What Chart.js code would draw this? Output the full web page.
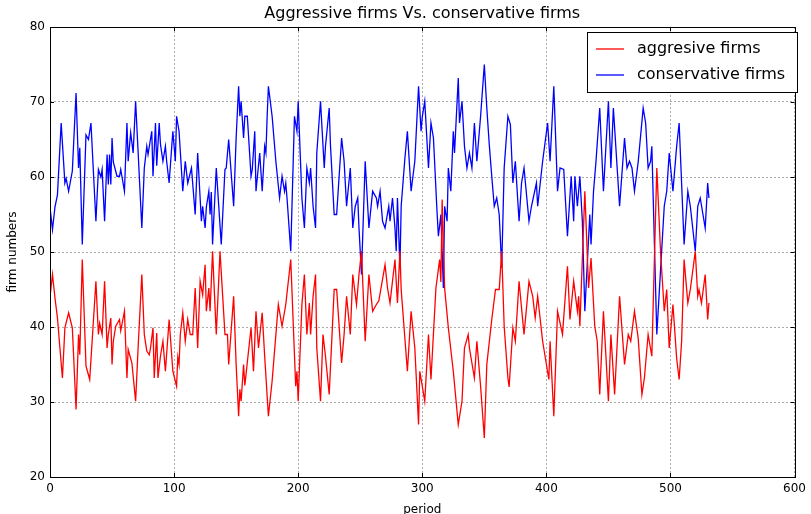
<!DOCTYPE html>
<html>
<head>
<meta charset="utf-8">
<script src="https://cdn.jsdelivr.net/npm/chart.js@4.4.1/dist/chart.umd.min.js"></script>
<style>
html,body{margin:0;padding:0;background:#fff;}
</style>
</head>
<body>
<canvas id="chart" width="811" height="514"></canvas>
<script>
// values (turning points of each line)
const aggPeriods = [0,2,4,6,10,12,15,18,21,23,24,26,29,30,32,37,39,40,42,44,46,47,49,50,51,53,56,57,60,62,63,66,69,71,74,76,78,80,81,83,84,86,87,89,91,93,96,99,102,103,104,105,107,109,111,113,115,117,119,121,123,125,126,128,129,131,134,137,141,143,144,148,150,152,153,154,156,157,162,164,166,168,171,173,176,179,184,187,190,194,198,199,200,203,205,207,209,210,212,214,215,218,220,222,225,229,231,235,237,239,242,244,247,249,251,254,257,260,263,265,270,272,274,278,280,282,283,288,291,294,297,298,300,302,305,307,311,314,315,316,318,321,325,329,332,334,337,338,342,344,347,350,352,356,359,362,364,366,369,370,373,375,378,382,386,389,391,393,397,402,403,406,409,413,417,419,422,425,426,427,431,434,436,439,441,443,446,450,452,455,459,463,466,468,471,474,477,479,482,485,489,492,495,497,499,502,505,507,509,511,514,516,520,522,523,525,528,530,531];
const aggValues = [44,47,43.9,41.2,33.2,39.9,41.9,39.9,29,39,36.3,49,34.8,34.2,33,46.1,39,40.5,39,46.1,37.2,39,41.2,35,38.1,40.1,41,39.5,42.1,33.2,37,35.2,30.1,37.2,47,39,36.8,36.3,37.2,39.9,33.2,39.2,33.2,36.1,38.1,34.1,41,34.1,32.1,36,35,39,41.9,38.1,41,39,39,45.2,37.2,46.1,44.3,48.3,42.1,45.2,42.1,50.1,39,50.1,39,39,35,44.1,35,28.1,31.7,30.1,35,32.2,39.9,34.1,42.1,37.2,41.9,36.1,28.1,32.8,43,40.1,43,49,32.1,34.1,30.1,43,47,39,43.2,39,44.1,47,37.2,30.1,39,36.1,31,45,45,35.2,39,44.1,39,47,43,47,50.1,38.1,47,42.1,43,43.5,48.3,45.2,43.2,49,43.2,50.1,45,34.1,42.1,37.2,27,34.1,32.1,30.1,39,33,45.2,49,46,57,45.2,39.9,34.1,27,30.1,37.2,39,37.2,33.2,38.1,32.1,25.2,35,41,45,45,50.1,40.1,33.2,32,39.9,38.1,46.1,39,46.1,44.1,41.2,44.1,38.1,33,38.1,28.1,42.1,39,48.1,41,46.1,42.1,44.1,40.1,58.1,45.2,49.2,40.1,38.1,31,42.1,30.1,39,31,44.1,35,39,38.1,42.1,38.5,31,33.2,39,36.1,61.2,50.1,42.1,45,37.2,43,35.8,33,38.1,49,43.2,45,50.1,44.1,45,43.2,47,41,43.2];

const consPeriods = [0,2,4,6,9,12,13,15,18,21,23,24,26,29,31,33,37,39,41,42,44,46,47,48,49,50,51,54,56,57,60,62,63,65,67,69,74,76,78,79,82,83,85,86,88,89,91,93,94,96,99,101,102,104,107,109,111,114,117,119,122,123,125,126,128,129,130,131,134,138,141,142,144,148,150,152,153,154,156,157,159,162,163,165,166,169,171,173,174,175,176,179,182,185,187,189,190,191,194,196,197,199,200,203,205,207,209,210,212,214,215,218,221,222,225,226,229,231,235,237,239,242,244,246,248,249,251,254,257,260,263,264,266,268,270,273,274,276,278,279,280,282,283,286,288,291,294,297,299,300,302,305,307,309,312,313,315,317,318,320,321,323,325,326,329,330,332,334,336,338,340,342,344,347,350,352,354,356,358,360,362,364,366,369,371,373,375,378,380,382,386,388,392,393,397,401,403,406,409,411,414,417,420,422,423,425,427,429,431,435,436,438,440,443,446,450,452,454,459,463,465,467,469,471,474,478,480,482,484,485,489,495,497,499,502,505,507,511,514,516,520,522,524,528,530,531];
const consValues = [56,53,56,57.6,67.2,59.2,59.8,58.1,60.8,71.2,61.2,63.9,51,65.6,65,67.2,54.1,61,60,61,54.1,63,59,63,59,65.2,62,60.1,60.1,61,58.1,67.2,62.1,65.9,63.2,70.1,53.2,61.2,64.1,63,66.1,60.1,67.2,61.5,67.2,64.4,62.1,64.1,62.1,59.2,66.1,62.1,68.1,66.1,58.1,62.1,59.2,61.2,55,63.2,54.1,56.1,53.2,56,58.1,55,58,51,61.2,51,61,61.2,65,56.1,65.2,72.1,68.1,70.1,65.2,68.1,68.1,60.1,61,66.1,58.1,63.2,58.1,64.1,63.2,68.1,72.1,68.1,62.1,57.2,60.1,58.1,59.2,57.2,50.1,62.1,68.1,66.1,70.1,57.2,53.2,61.2,59.2,61.2,56.1,53.2,63.2,70.1,61.2,64.1,69.2,64.3,55,55,65.2,62.1,56.1,61.2,53.2,56.1,57.2,53.2,47,62.1,53.2,58.1,57.2,56.1,58.1,54.1,53.2,56.1,54.1,57.2,53.2,50.1,57.2,47.9,56.1,62.5,66.1,58.1,62.1,72.1,66.1,68,70.1,61.2,67.2,65.2,55,52.1,55,45.2,56.1,54.1,61.2,58.1,66.1,63.2,73.2,67.2,70.1,64.1,61.2,63.2,61.2,67.2,62.1,68.1,75,69.2,64.3,60.1,56.1,57.2,55,47.9,61.2,68.1,67,59.2,62.1,54.1,59.2,61.2,54.1,56.1,59.2,56.1,62.1,67.2,62.1,72.1,58.1,61.2,61,52.1,60.1,54.1,60.1,56.1,60.1,54.1,42.1,55,51,58.1,62.1,69.2,58.1,70.1,61.2,69.2,56.1,65.2,61.2,62.1,61.2,58.1,62,69.2,67.2,61.2,62.1,64.1,39,56.1,58.1,63.2,58.1,64.1,67.2,51,58.1,56.1,50.1,56.1,57.2,53.2,59.2,57.2];

const xTicks = [0,100,200,300,400,500,600];
const yTicks = [20,30,40,50,60,70,80];

const FONT = "'DejaVu Sans', sans-serif";

function toPoints(xs, ys){
  return xs.map((x,i) => ({x:x, y:ys[i]}));
}

// title, frame, inward ticks and the boxed legend, like the matplotlib original
const decorations = {
  id: 'decorations',
  afterDraw(chart){
    const ctx = chart.ctx;
    const a = chart.chartArea;
    const sx = chart.scales.x, sy = chart.scales.y;
    ctx.save();

    ctx.fillStyle = '#000';
    ctx.font = '16px ' + FONT;
    ctx.textAlign = 'center';
    ctx.textBaseline = 'middle';
    ctx.fillText('Aggressive firms Vs. conservative firms', (a.left + a.right)/2, 14);

    ctx.strokeStyle = '#000';
    ctx.lineWidth = 1;
    ctx.beginPath();
    xTicks.forEach(v => {
      const px = Math.round(sx.getPixelForValue(v)) + 0.5;
      ctx.moveTo(px, a.bottom); ctx.lineTo(px, a.bottom - 4);
      ctx.moveTo(px, a.top); ctx.lineTo(px, a.top + 4);
    });
    yTicks.forEach(v => {
      const py = Math.round(sy.getPixelForValue(v)) + 0.5;
      ctx.moveTo(a.left, py); ctx.lineTo(a.left + 4, py);
      ctx.moveTo(a.right, py); ctx.lineTo(a.right - 4, py);
    });
    ctx.stroke();
    ctx.strokeRect(Math.round(a.left)+0.5, Math.round(a.top)+0.5, Math.round(a.right - a.left), Math.round(a.bottom - a.top));

    // legend box
    const lx = 587, ly = 32, lw = 210, lh = 60;
    ctx.fillStyle = '#fff';
    ctx.fillRect(lx, ly, lw, lh);
    ctx.strokeRect(lx + 0.5, ly + 0.5, lw, lh);
    ctx.font = '16px ' + FONT;
    ctx.textAlign = 'left';
    chart.data.datasets.forEach((ds, i) => {
      const y = ly + 17 + i*26;
      ctx.strokeStyle = ds.borderColor;
      ctx.lineWidth = 1.3;
      ctx.beginPath();
      ctx.moveTo(lx + 9, y); ctx.lineTo(lx + 37, y);
      ctx.stroke();
      ctx.fillStyle = '#000';
      ctx.fillText(ds.label, lx + 50, y);
    });
    ctx.restore();
  }
};

new Chart(document.getElementById('chart'), {
  type: 'line',
  data: {
    datasets: [{
      label: 'aggresive firms',
      data: toPoints(aggPeriods, aggValues),
      borderColor: '#ff0000',
      borderWidth: 1.3,
      pointRadius: 0,
      tension: 0,
      fill: false
    },{
      label: 'conservative firms',
      data: toPoints(consPeriods, consValues),
      borderColor: '#0000ff',
      borderWidth: 1.3,
      pointRadius: 0,
      tension: 0,
      fill: false
    }]
  },
  options: {
    responsive: false,
    animation: false,
    devicePixelRatio: 1,
    layout: { padding: { top: 27, right: 11, left: 0, bottom: 0 } },
    plugins: { legend: { display: false }, title: { display: false }, tooltip: { enabled: false } },
    scales: {
      x: {
        type: 'linear', min: 0, max: 600,
        afterBuildTicks: s => { s.ticks = xTicks.map(v => ({value: v})); },
        afterFit: s => { s.height = 37; },
        ticks: { color: '#000', font: { family: FONT, size: 12 }, padding: 5, maxRotation: 0 },
        grid: { color: '#aaaaaa', drawTicks: false },
        border: { display: false, dash: [2, 2] },
        title: { display: true, text: 'period', color: '#000', font: { family: FONT, size: 12 }, padding: { top: 0, bottom: -3 } }
      },
      y: {
        min: 20, max: 80,
        afterBuildTicks: s => { s.ticks = yTicks.map(v => ({value: v})); },
        afterFit: s => { s.width = 50; },
        ticks: { color: '#000', font: { family: FONT, size: 12 }, padding: 5 },
        grid: { color: '#aaaaaa', drawTicks: false },
        border: { display: false, dash: [2, 2] },
        title: { display: true, text: 'firm numbers', color: '#000', font: { family: FONT, size: 12 }, padding: { top: 6, bottom: 0 } }
      }
    }
  },
  plugins: [decorations]
});
</script>
</body>
</html>
